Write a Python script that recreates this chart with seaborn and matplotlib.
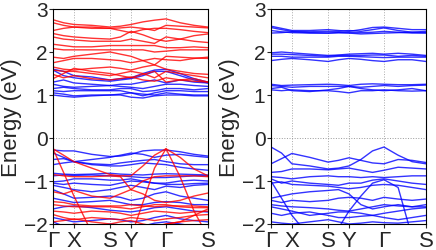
import numpy as np
import pandas as pd
import matplotlib
matplotlib.use("Agg")
import matplotlib.pyplot as plt
import seaborn as sns

# k-path nodes (fraction of path length) and labels
k_nodes = [0.0, 0.068, 0.135, 0.25, 0.368, 0.435, 0.503, 0.58, 0.655, 0.729, 0.82, 0.91, 1.0]
hs_pos = [0.0, 0.135, 0.368, 0.503, 0.729, 1.0]
hs_labels = ["Γ", "X", "S", "Y", "Γ", "S"]

# Left panel: spin-up (red)
left_red = [
    [2.75, 2.68, 2.64, 2.62, 2.58, 2.60, 2.64, 2.70, 2.74, 2.77, 2.68, 2.62, 2.58],
    [2.68, 2.62, 2.58, 2.55, 2.55, 2.56, 2.58, 2.55, 2.50, 2.62, 2.60, 2.58, 2.56],
    [2.50, 2.55, 2.58, 2.58, 2.55, 2.50, 2.45, 2.52, 2.55, 2.55, 2.52, 2.48, 2.45],
    [2.43, 2.38, 2.35, 2.32, 2.30, 2.35, 2.48, 2.40, 2.30, 2.25, 2.30, 2.38, 2.42],
    [2.35, 2.30, 2.28, 2.25, 2.25, 2.25, 2.30, 2.25, 2.20, 2.35, 2.30, 2.25, 2.22],
    [2.18, 2.15, 2.12, 2.12, 2.15, 2.15, 2.15, 2.15, 2.15, 2.10, 2.10, 2.12, 2.10],
    [2.08, 2.05, 2.05, 2.05, 2.05, 2.05, 2.05, 2.05, 2.00, 2.02, 2.05, 2.05, 2.05],
    [1.88, 1.85, 1.90, 1.95, 2.00, 1.95, 1.90, 1.80, 1.70, 1.90, 1.88, 1.86, 1.85],
    [1.75, 1.80, 1.85, 1.85, 1.82, 1.80, 1.75, 1.80, 1.85, 1.82, 1.80, 1.85, 1.88],
    [1.65, 1.60, 1.58, 1.62, 1.65, 1.62, 1.58, 1.65, 1.70, 1.60, 1.55, 1.50, 1.48],
    [1.58, 1.55, 1.55, 1.50, 1.45, 1.50, 1.55, 1.50, 1.40, 1.55, 1.50, 1.45, 1.40],
    [1.48, 1.40, 1.45, 1.38, 1.35, 1.38, 1.42, 1.35, 1.32, 1.40, 1.35, 1.32, 1.30],
    [1.38, 1.50, 1.62, 1.55, 1.50, 1.45, 1.40, 1.48, 1.55, 1.30, 1.35, 1.38, 1.30],
    [-0.25, -0.40, -0.55, -0.70, -0.85, -0.88, -0.88, -0.65, -0.40, -0.25, -0.45, -0.72, -0.88],
    [-0.25, -0.80, -1.35, -2.20, -2.40, -2.40, -2.30, -1.50, -0.70, -0.25, -0.90, -1.70, -2.30],
    [-0.85, -0.88, -0.90, -0.90, -0.88, -0.90, -1.20, -1.00, -0.90, -0.88, -0.88, -0.88, -0.90],
    [-1.25, -1.30, -1.22, -1.35, -1.40, -1.30, -1.20, -1.30, -1.45, -1.50, -1.45, -1.35, -1.28],
    [-1.48, -1.50, -1.55, -1.58, -1.58, -1.58, -1.55, -1.58, -1.60, -1.58, -1.58, -1.58, -1.60],
    [-1.55, -1.58, -1.60, -1.60, -1.60, -1.62, -1.65, -1.60, -1.55, -1.55, -1.60, -1.62, -1.62],
    [-1.70, -1.72, -1.75, -1.70, -1.72, -1.75, -1.80, -1.75, -1.70, -1.72, -1.75, -1.72, -1.70],
    [-1.78, -1.85, -1.90, -1.85, -1.88, -1.90, -1.85, -1.88, -1.92, -1.88, -1.85, -1.80, -1.78],
    [-1.95, -1.92, -1.88, -1.95, -2.00, -1.95, -1.92, -2.00, -2.05, -2.00, -1.95, -1.92, -1.90],
    [-2.20, -2.10, -2.00, -2.05, -2.10, -2.20, -2.30, -2.20, -2.10, -2.00, -1.95, -1.80, -1.65],
]

# Left panel: spin-down (blue)
left_blue = [
    [1.60, 1.55, 1.45, 1.42, 1.35, 1.38, 1.40, 1.50, 1.58, 1.60, 1.50, 1.38, 1.30],
    [1.58, 1.45, 1.40, 1.35, 1.32, 1.35, 1.38, 1.45, 1.55, 1.55, 1.45, 1.35, 1.28],
    [1.30, 1.35, 1.28, 1.25, 1.22, 1.25, 1.25, 1.30, 1.35, 1.28, 1.35, 1.30, 1.28],
    [1.25, 1.20, 1.18, 1.20, 1.22, 1.20, 1.18, 1.15, 1.20, 1.25, 1.25, 1.22, 1.20],
    [1.15, 1.18, 1.15, 1.12, 1.12, 1.15, 1.15, 1.08, 1.10, 1.15, 1.15, 1.12, 1.15],
    [1.10, 1.08, 1.10, 1.10, 1.10, 1.10, 1.05, 0.98, 1.05, 1.10, 1.10, 1.08, 1.08],
    [1.05, 1.02, 0.98, 1.00, 1.00, 1.02, 1.05, 1.02, 1.00, 1.05, 1.02, 1.00, 1.00],
    [1.00, 0.97, 0.95, 0.98, 1.00, 1.00, 0.95, 0.93, 0.98, 1.00, 1.00, 0.98, 0.98],
    [-0.28, -0.30, -0.30, -0.38, -0.43, -0.42, -0.38, -0.30, -0.28, -0.28, -0.32, -0.38, -0.42],
    [-0.35, -0.45, -0.55, -0.50, -0.45, -0.40, -0.35, -0.38, -0.45, -0.40, -0.38, -0.42, -0.45],
    [-0.50, -0.48, -0.55, -0.60, -0.62, -0.58, -0.55, -0.52, -0.50, -0.55, -0.60, -0.62, -0.62],
    [-0.62, -0.58, -0.55, -0.62, -0.65, -0.65, -0.62, -0.58, -0.60, -0.62, -0.68, -0.72, -0.75],
    [-0.82, -0.84, -0.85, -0.84, -0.82, -0.84, -0.85, -0.86, -0.84, -0.83, -0.84, -0.85, -0.86],
    [-0.88, -0.86, -0.87, -0.86, -0.88, -0.88, -0.90, -0.92, -0.92, -0.92, -0.90, -0.88, -0.88],
    [-1.02, -1.00, -0.95, -0.95, -0.98, -0.98, -0.95, -1.00, -1.05, -1.05, -1.00, -0.98, -1.00],
    [-1.05, -1.08, -1.05, -1.08, -1.10, -1.05, -1.00, -1.02, -1.05, -1.08, -1.08, -1.06, -1.05],
    [-1.10, -1.15, -1.20, -1.25, -1.20, -1.15, -1.10, -1.15, -1.20, -1.12, -1.15, -1.10, -1.08],
    [-1.20, -1.30, -1.40, -1.38, -1.35, -1.38, -1.45, -1.40, -1.30, -1.25, -1.35, -1.40, -1.45],
    [-1.40, -1.45, -1.50, -1.48, -1.45, -1.50, -1.55, -1.55, -1.50, -1.48, -1.50, -1.55, -1.55],
    [-1.65, -1.60, -1.58, -1.62, -1.68, -1.70, -1.72, -1.68, -1.62, -1.60, -1.65, -1.70, -1.72],
    [-1.85, -1.90, -1.95, -1.92, -1.88, -1.90, -1.95, -1.92, -1.85, -1.80, -1.88, -1.92, -1.95],
    [-1.95, -2.05, -2.10, -2.05, -2.00, -2.02, -2.08, -2.05, -1.98, -1.95, -2.00, -2.05, -2.08],
]

# Right panel (blue only)
right_blue = [
    [2.60, 2.55, 2.50, 2.50, 2.52, 2.50, 2.48, 2.52, 2.57, 2.58, 2.55, 2.52, 2.52],
    [2.57, 2.52, 2.48, 2.47, 2.48, 2.48, 2.50, 2.48, 2.52, 2.56, 2.50, 2.46, 2.48],
    [2.50, 2.47, 2.45, 2.44, 2.44, 2.45, 2.45, 2.45, 2.46, 2.48, 2.46, 2.44, 2.44],
    [2.44, 2.45, 2.47, 2.45, 2.44, 2.45, 2.44, 2.42, 2.43, 2.44, 2.45, 2.46, 2.45],
    [1.98, 2.00, 1.98, 1.95, 1.92, 1.93, 1.95, 1.96, 1.97, 1.95, 1.97, 1.95, 1.92],
    [1.95, 1.95, 1.94, 1.92, 1.90, 1.92, 1.92, 1.92, 1.93, 1.93, 1.90, 1.92, 1.90],
    [1.90, 1.90, 1.88, 1.88, 1.88, 1.90, 1.90, 1.89, 1.88, 1.87, 1.88, 1.88, 1.88],
    [1.80, 1.83, 1.85, 1.82, 1.78, 1.82, 1.85, 1.83, 1.80, 1.78, 1.82, 1.82, 1.78],
    [1.25, 1.22, 1.23, 1.24, 1.25, 1.24, 1.22, 1.25, 1.26, 1.25, 1.24, 1.24, 1.25],
    [1.22, 1.20, 1.18, 1.20, 1.20, 1.20, 1.20, 1.18, 1.20, 1.22, 1.20, 1.22, 1.23],
    [1.15, 1.18, 1.10, 1.08, 1.12, 1.15, 1.20, 1.15, 1.12, 1.10, 1.12, 1.15, 1.10],
    [1.12, 1.10, 1.12, 1.10, 1.10, 1.08, 1.05, 1.10, 1.10, 1.12, 1.10, 1.09, 1.10],
    [-0.21, -0.35, -0.60, -0.65, -0.72, -0.70, -0.65, -0.50, -0.30, -0.21, -0.40, -0.55, -0.60],
    [-0.60, -0.48, -0.36, -0.45, -0.56, -0.52, -0.46, -0.52, -0.58, -0.60, -0.50, -0.52, -0.57],
    [-0.80, -0.78, -0.72, -0.72, -0.74, -0.72, -0.70, -0.75, -0.80, -0.75, -0.68, -0.70, -0.72],
    [-0.90, -0.92, -0.95, -0.90, -0.88, -0.90, -0.90, -0.92, -0.90, -0.92, -0.90, -0.88, -0.88],
    [-0.95, -1.05, -1.00, -1.05, -1.08, -1.10, -1.05, -1.05, -0.98, -0.95, -1.00, -1.05, -1.08],
    [-1.05, -1.02, -1.08, -1.10, -1.12, -1.15, -1.18, -1.15, -1.10, -1.08, -1.10, -1.15, -1.20],
    [-1.40, -1.35, -1.30, -1.25, -1.22, -1.20, -1.30, -1.55, -1.65, -1.60, -1.55, -1.60, -1.55],
    [-1.45, -1.50, -1.45, -1.48, -1.45, -1.40, -1.38, -1.40, -1.45, -1.38, -1.42, -1.45, -1.42],
    [-1.55, -1.58, -1.60, -1.62, -1.65, -1.68, -1.70, -1.65, -1.60, -1.55, -1.58, -1.60, -1.60],
    [-1.60, -1.65, -1.70, -1.80, -1.75, -1.72, -1.72, -1.75, -1.80, -1.75, -1.70, -1.65, -1.62],
    [-1.75, -1.80, -1.75, -1.72, -1.80, -1.85, -1.85, -1.82, -1.80, -1.85, -1.90, -1.85, -1.80],
    [-1.95, -1.98, -2.00, -1.95, -1.90, -1.95, -2.00, -1.98, -1.95, -1.97, -1.98, -1.95, -1.92],
    [-1.00, -1.40, -1.80, -2.30, -2.40, -2.10, -1.70, -1.35, -1.05, -0.97, -1.15, -2.30, -2.40],
]

yticks = [-2, -1, 0, 1, 2, 3]


def to_df(bands):
    rows = []
    for b, vals in enumerate(bands):
        for k, e in zip(k_nodes, vals):
            rows.append({"k": k, "E": e, "band": b})
    return pd.DataFrame(rows)


sns.set_style("ticks")
plt.rcParams["font.family"] = ["Liberation Sans", "DejaVu Sans"]

fig = plt.figure(figsize=(4.36, 2.51), dpi=100)
ax1 = fig.add_axes([53 / 436, 26 / 251, 155 / 436, 215 / 251])
ax2 = fig.add_axes([271 / 436, 26 / 251, 155 / 436, 215 / 251])

lw = 1.0
sns.lineplot(data=to_df(left_blue), x="k", y="E", units="band", estimator=None,
             color="#0000ff", lw=lw, alpha=0.8, ax=ax1, sort=False)
sns.lineplot(data=to_df(left_red), x="k", y="E", units="band", estimator=None,
             color="#ff0000", lw=lw, alpha=0.8, ax=ax1, sort=False)
sns.lineplot(data=to_df(right_blue), x="k", y="E", units="band", estimator=None,
             color="#0000ff", lw=lw, alpha=0.8, ax=ax2, sort=False)

for ax in (ax1, ax2):
    ax.set_xlim(0, 1)
    ax.set_ylim(-2, 3)
    for p in hs_pos[1:-1]:
        ax.axvline(p, color="#aaaaaa", lw=0.7, ls=":", zorder=0)
    ax.axhline(0, color="#999999", lw=0.7, ls=":", zorder=0)
    ax.set_xticks(hs_pos)
    ax.set_xticklabels(hs_labels, fontsize=16)
    ax.set_yticks(yticks)
    ax.set_yticklabels([str(t).replace("-", "\u2212") for t in yticks], fontsize=15)
    ax.tick_params(axis="both", direction="out", length=3, width=0.8, pad=1)
    ax.set_xlabel("")
    ax.set_ylabel("Energy (eV)", fontsize=16, labelpad=1)
    for s in ax.spines.values():
        s.set_linewidth(0.8)
        s.set_color("black")

fig.savefig("out.png", dpi=100)
